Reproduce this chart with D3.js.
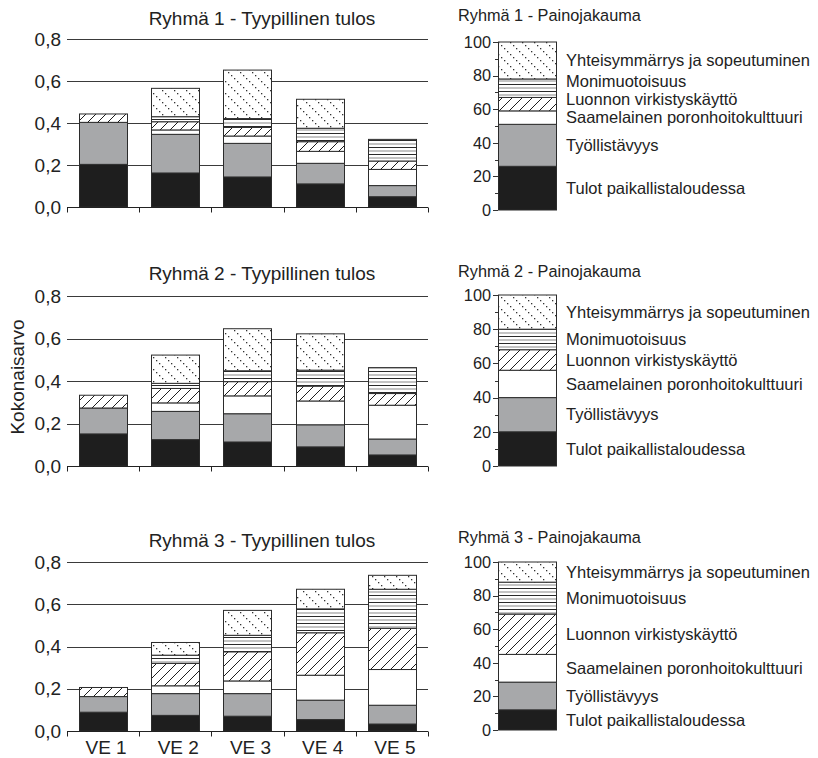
<!DOCTYPE html>
<html><head><meta charset="utf-8">
<script src="https://cdn.jsdelivr.net/npm/d3@7"></script>
<style>body{margin:0;background:#fff}svg{display:block;font-family:"Liberation Sans",Arial,sans-serif}</style>
</head><body><svg id="c" width="818" height="758"></svg>
<script>
// ---------- DATA ----------
const categories = ["VE 1","VE 2","VE 3","VE 4","VE 5"];
const criteria = ["Tulot paikallistaloudessa","Työllistävyys","Saamelainen poronhoitokulttuuri","Luonnon virkistyskäyttö","Monimuotoisuus","Yhteisymmärrys ja sopeutuminen"];
const yTicks = [0,0.2,0.4,0.6,0.8];
const yTickLabels = ["0,0","0,2","0,4","0,6","0,8"];
const wTicks = [0,20,40,60,80,100];
const titlesResult = ["Ryhmä 1 - Tyypillinen tulos","Ryhmä 2 - Tyypillinen tulos","Ryhmä 3 - Tyypillinen tulos"];
const titlesWeights = ["Ryhmä 1 - Painojakauma","Ryhmä 2 - Painojakauma","Ryhmä 3 - Painojakauma"];
const yLabel = "Kokonaisarvo";
// segment values per alternative (rows = VE1..VE5, cols = criteria)
const group1 = [
  [0.203,0.200,0.000,0.040,0.000,0.000],
  [0.162,0.184,0.021,0.039,0.024,0.135],
  [0.143,0.160,0.035,0.041,0.042,0.231],
  [0.110,0.098,0.057,0.046,0.064,0.138],
  [0.049,0.053,0.077,0.040,0.103,0.000]
];
const group2 = [
  [0.151,0.122,0.000,0.060,0.000,0.000],
  [0.124,0.133,0.040,0.068,0.024,0.133],
  [0.113,0.133,0.084,0.067,0.051,0.198],
  [0.090,0.104,0.112,0.070,0.075,0.171],
  [0.052,0.075,0.159,0.055,0.122,0.000]
];
const group3 = [
  [0.089,0.074,0.000,0.043,0.000,0.000],
  [0.074,0.103,0.037,0.106,0.039,0.060],
  [0.070,0.107,0.060,0.138,0.078,0.118],
  [0.054,0.092,0.118,0.201,0.113,0.093],
  [0.033,0.089,0.169,0.195,0.185,0.066]
];
const weights1 = [26,25,8,8,11,22];
const weights2 = [20,20,16,12,12,20];
const weights3 = [12,16.5,16.5,24,19,12];

// ---------- LAYOUT ----------
const groupsData = [group1,group2,group3];
const weightsData = [weights1,weights2,weights3];
const mainLayout = [{b:207,t:39,ty:25},{b:466,t:296,ty:280},{b:731,t:562,ty:547}];
const rightLayout = [{b:210,t:42,ty:21},{b:466,t:295,ty:277},{b:730,t:562,ty:543}];
const fills = ["#1e1e1e","#a7a8aa","#ffffff","url(#hatch)","url(#hlines)","url(#dots)"];
const stroke = "#2b2b2b";

const svg = d3.select("#c");
const defs = svg.append("defs");
// diagonal hatch
let p = defs.append("pattern").attr("id","hatch").attr("patternUnits","userSpaceOnUse").attr("width",10).attr("height",10);
p.append("rect").attr("width",10).attr("height",10).attr("fill","#fff");
p.append("path").attr("d","M-1,1 L1,-1 M0,10 L10,0 M9,11 L11,9").attr("stroke","#1e1e1e").attr("stroke-width",1);
// horizontal lines
p = defs.append("pattern").attr("id","hlines").attr("patternUnits","userSpaceOnUse").attr("width",10).attr("height",7);
p.append("rect").attr("width",10).attr("height",7).attr("fill","#fff");
p.append("rect").attr("y",0).attr("width",10).attr("height",1).attr("fill","#2a2a2a");
p.append("rect").attr("y",3.5).attr("width",10).attr("height",1).attr("fill","#8a8a8a");
// dotted diagonal
p = defs.append("pattern").attr("id","dots").attr("patternUnits","userSpaceOnUse").attr("width",12).attr("height",12);
p.append("rect").attr("width",12).attr("height",12).attr("fill","#fff");
for (let i=0;i<4;i++) p.append("rect").attr("x",i*3).attr("y",i*3).attr("width",1.3).attr("height",1.3).attr("fill","#333");

const x = d3.scaleBand().domain(categories).range([67,428]).paddingInner(0.33).paddingOuter(0.165);
const stack = d3.stack().keys(d3.range(criteria.length));

groupsData.forEach((g, gi) => {
  const L = mainLayout[gi];
  const y = d3.scaleLinear().domain([0,0.8]).range([L.b, L.t]);
  const gg = svg.append("g");
  gg.append("text").attr("x",262).attr("y",L.ty).attr("text-anchor","middle").attr("font-size",19).attr("fill","#222").text(titlesResult[gi]);
  gg.selectAll("line.grid").data(yTicks.filter(v=>v>0)).join("line")
    .attr("x1",67).attr("x2",428).attr("y1",d=>Math.round(y(d))+0.5).attr("y2",d=>Math.round(y(d))+0.5)
    .attr("stroke","#3a3a3a").attr("stroke-width",1);
  gg.selectAll("text.yt").data(yTicks).join("text")
    .attr("x",61).attr("y",d=>y(d)).attr("dy","0.35em").attr("text-anchor","end")
    .attr("font-size",19).attr("fill","#222").text((d,i)=>yTickLabels[i]);
  const rows = g.map(r => Object.assign({}, r));
  const series = stack(rows);
  series.forEach((s, si) => {
    gg.append("g").selectAll("rect").data(s.map((d,i)=>({d,i})).filter(o=>o.d[1]-o.d[0]>0)).join("rect")
      .attr("x", o=>Math.round(x(categories[o.i]))+0.5)
      .attr("width", Math.round(x.bandwidth()))
      .attr("y", o=>y(o.d[1]))
      .attr("height", o=>y(o.d[0])-y(o.d[1]))
      .attr("fill", fills[si]).attr("stroke",stroke).attr("stroke-width",1);
  });
  const xb = Math.round(y(0))+0.5;
  gg.append("line").attr("x1",67).attr("x2",428).attr("y1",xb).attr("y2",xb).attr("stroke","#222");
  const bounds = d3.range(categories.length+1).map(i=>67+i*x.step());
  gg.selectAll("line.xt").data(bounds).join("line")
    .attr("x1",d=>Math.round(d)+0.5).attr("x2",d=>Math.round(d)+0.5).attr("y1",xb).attr("y2",xb+5).attr("stroke","#222");
  if (gi===2) {
    gg.selectAll("text.xl").data(categories).join("text")
      .attr("x",d=>x(d)+x.bandwidth()/2+3).attr("y",754).attr("text-anchor","middle")
      .attr("font-size",19).attr("fill","#222").text(d=>d);
  }
});

svg.append("text").attr("transform","translate(24,377) rotate(-90)").attr("text-anchor","middle")
  .attr("font-size",19).attr("fill","#222").text(yLabel);

weightsData.forEach((w, gi) => {
  const L = rightLayout[gi];
  const y = d3.scaleLinear().domain([0,100]).range([L.b, L.t]);
  const gg = svg.append("g");
  gg.append("text").attr("x",458).attr("y",L.ty).attr("font-size",16.3).attr("fill","#222").text(titlesWeights[gi]);
  const series = stack([Object.assign({}, w)]);
  series.forEach((s, si) => {
    const d = s[0];
    gg.append("rect").attr("x",498.5).attr("width",58).attr("y",y(d[1])).attr("height",y(d[0])-y(d[1]))
      .attr("fill",fills[si]).attr("stroke",stroke).attr("stroke-width",1);
  });
  gg.selectAll("line.mt").data(d3.range(0,101,10)).join("line")
    .attr("x1",d=>d%20===0?493:495).attr("x2",498).attr("y1",d=>Math.round(y(d))+0.5).attr("y2",d=>Math.round(y(d))+0.5)
    .attr("stroke","#333");
  gg.selectAll("text.wt").data(wTicks).join("text")
    .attr("x",491).attr("y",d=>y(d)).attr("dy","0.35em").attr("text-anchor","end")
    .attr("font-size",16.3).attr("fill","#222").text(d=>d);
  // legend labels: at segment middles, pushed upward when they would overlap
  const mids = series.map(s => y((s[0][0]+s[0][1])/2));
  const gap = 18;
  const pos = [];
  mids.forEach((m,i) => { pos.push(i===0 ? m : Math.min(m, pos[i-1]-gap)); });
  gg.selectAll("text.lg").data(criteria).join("text")
    .attr("x",566).attr("y",(d,i)=>pos[i]).attr("dy","0.35em")
    .attr("font-size",16.5).attr("fill","#222").text(d=>d);
});
</script></body></html>
